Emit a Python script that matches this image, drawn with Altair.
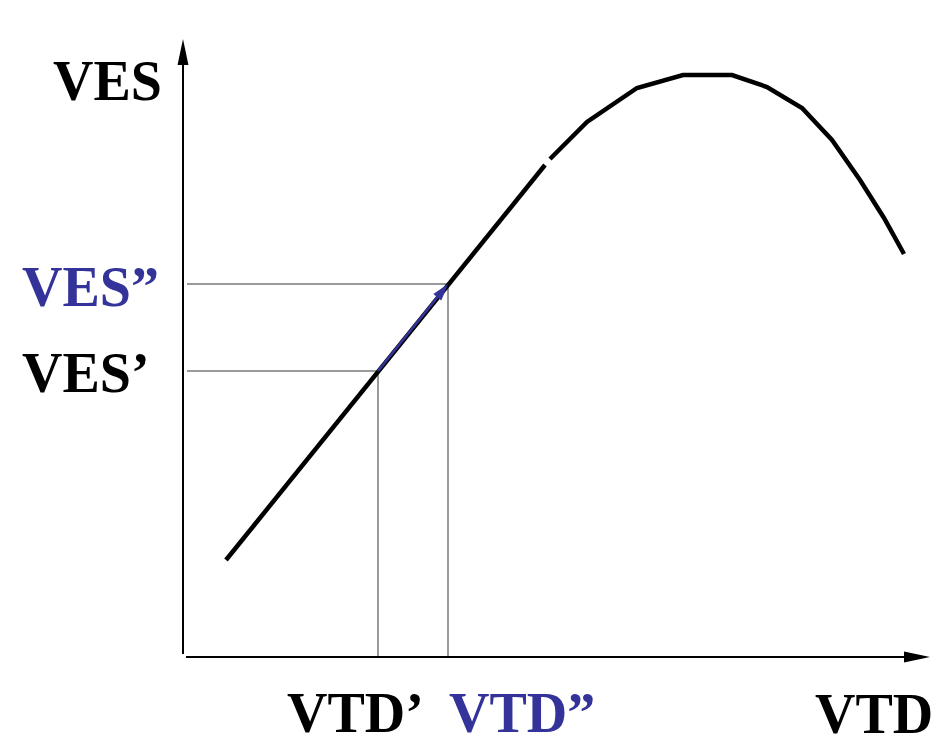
import math
import altair as alt
import pandas as pd

# Curve (VTD vs VES, arbitrary units); two segments with a small gap
seg1_vtd = [42, 361]
seg1_ves = [97, 492]
seg2_vtd = [366, 403, 453, 499, 548, 583, 618, 648, 676, 700, 720]
seg2_ves = [498, 535, 569, 582, 582, 570, 549, 517, 477, 439, 403]

# Operating points
vtd1, ves1 = 194, 286
vtd2, ves2 = 264, 373

# Axis extents
x_axis_end = 721
y_axis_end = 592

# Labels
label_text = ["VES", "VES\u201d", "VES\u2019", "VTD\u2019", "VTD\u201d", "VTD"]
label_x = [-131, -162, -162, 103, 265, 631]
label_y = [557, 351, 265, -75, -75, -76]
label_color = ["#000000", "#333399", "#000000", "#000000", "#333399", "#000000"]

BLUE = "#333399"
GRAY = "#9a9a9a"

xs = alt.Scale(domain=[-176, 747], range=[0, 923], nice=False, zero=False)
ys = alt.Scale(domain=[-78, 649], range=[727, 0], nice=False, zero=False)

curve = pd.DataFrame(
    {"vtd": seg1_vtd + seg2_vtd,
     "ves": seg1_ves + seg2_ves,
     "seg": ["a"] * len(seg1_vtd) + ["b"] * len(seg2_vtd),
     "order": list(range(len(seg1_vtd))) + list(range(len(seg2_vtd)))}
)

guides = pd.DataFrame({
    "x": [3, 3, vtd1, vtd2],
    "x2": [vtd1, vtd2, vtd1, vtd2],
    "y": [ves1, ves2, 0, 0],
    "y2": [ves1, ves2, ves1, ves2],
})

axes_df = pd.DataFrame({
    "x": [-1, 2], "x2": [-1, x_axis_end],
    "y": [3, 0], "y2": [y_axis_end, 0],
})

# Blue arrow geometry (1 unit = 1 px in both directions)
dx, dy = vtd2 - vtd1, ves2 - ves1
L = math.hypot(dx, dy)
ux, uy = dx / L, dy / L
head_len = 17
arrow_line = pd.DataFrame({
    "x": [vtd1, vtd2 - ux * (head_len - 4)],
    "y": [ves1, ves2 - uy * (head_len - 4)],
})
arrow_angle = math.degrees(math.atan2(dx, dy))
blue_head = pd.DataFrame({
    "x": [vtd2 - ux * head_len / 2],
    "y": [ves2 - uy * head_len / 2],
    "a": [arrow_angle],
})

axis_heads = pd.DataFrame({
    "x": [-1, x_axis_end + 12],
    "y": [y_axis_end + 13, 0],
    "a": [0, 90],
})

labels = pd.DataFrame({"t": label_text, "x": label_x, "y": label_y, "c": label_color})

X = lambda f="x": alt.X(f, type="quantitative", scale=xs, axis=None)
Y = lambda f="y": alt.Y(f, type="quantitative", scale=ys, axis=None)

guide_layer = alt.Chart(guides).mark_rule(color=GRAY, strokeWidth=2).encode(
    x=X(), x2="x2", y=Y(), y2="y2")

axis_layer = alt.Chart(axes_df).mark_rule(color="black", strokeWidth=2).encode(
    x=X(), x2="x2", y=Y(), y2="y2")

curve_layer = alt.Chart(curve).mark_line(color="black", strokeWidth=4.5, strokeCap="butt").encode(
    x=X("vtd"), y=Y("ves"), detail="seg", order="order")

blue_line = alt.Chart(arrow_line).mark_line(color=BLUE, strokeWidth=2.5).encode(x=X(), y=Y())

blue_head_layer = alt.Chart(blue_head).mark_point(
    shape="M0,-1L0.6,1L-0.6,1Z", filled=True, color=BLUE, opacity=1, size=head_len ** 2
).encode(x=X(), y=Y(), angle=alt.Angle("a", type="quantitative", scale=None))

axis_head_layer = alt.Chart(axis_heads).mark_point(
    shape="M0,-1L0.42,1L-0.42,1Z", filled=True, color="black", opacity=1, size=676
).encode(x=X(), y=Y(), angle=alt.Angle("a", type="quantitative", scale=None))

text_layer = alt.Chart(labels).mark_text(
    font="Liberation Serif", fontWeight="bold", fontSize=56, align="left", baseline="alphabetic"
).encode(x=X(), y=Y(), text="t", color=alt.Color("c", type="nominal", scale=None))

chart = alt.layer(
    guide_layer, axis_layer, curve_layer, blue_line, blue_head_layer, axis_head_layer, text_layer
).properties(
    width=923, height=727, autosize=alt.AutoSizeParams(type="none"), padding=0
).configure_view(stroke=None)

chart.save("out.html", embed_options={"renderer": "svg", "actions": False})
